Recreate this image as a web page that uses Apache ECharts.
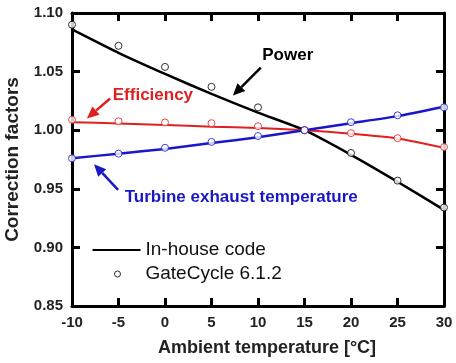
<!DOCTYPE html>
<html><head><meta charset="utf-8">
<script src="https://cdn.jsdelivr.net/npm/echarts@6/dist/echarts.min.js"></script>
<style>html,body{margin:0;padding:0;background:#fff}#c{width:456px;height:363px}</style>
</head><body><div id="c"></div>
<script>
const temps = [-10, -5, 0, 5, 10, 15, 20, 25, 30];
const powerLine = [1.086, 1.066, 1.048, 1.031, 1.015, 1.000, 0.979, 0.956, 0.932];
const powerPts  = [1.090, 1.072, 1.054, 1.037, 1.0195, 1.000, 0.9806, 0.957, 0.934];
const effLine   = [1.0068, 1.0058, 1.0045, 1.003, 1.0018, 1.000, 0.997, 0.993, 0.985];
const effPts    = [1.009, 1.0076, 1.0066, 1.006, 1.0034, 1.000, 0.9975, 0.9932, 0.9856];
const exhLine   = [0.976, 0.980, 0.984, 0.989, 0.994, 1.000, 1.006, 1.012, 1.020];
const exhPts    = [0.976, 0.980, 0.985, 0.990, 0.995, 1.000, 1.0068, 1.0127, 1.0195];
const yTicks = [0.85, 0.90, 0.95, 1.00, 1.05, 1.10];
const xTicks = [-10, -5, 0, 5, 10, 15, 20, 25, 30];

const FONT = '"Liberation Sans", Arial, sans-serif';
const pair = (xs, ys) => xs.map((x, i) => [x, ys[i]]);
const chart = echarts.init(document.getElementById('c'), null, {renderer: 'canvas'});

const axisCommon = {
  axisLine: {show: true, onZero: false, lineStyle: {color: '#000', width: 3}},
  axisTick: {show: true, inside: true, length: 8, lineStyle: {color: '#000', width: 3}},
  splitLine: {show: false}
};
function lineSeries(name, data, color, w) {
  return {type: 'line', name: name, data: data, symbol: 'none', smooth: 0.2,
    lineStyle: {color: color, width: w}, itemStyle: {color: color}, z: 2, animation: false};
}
function ptSeries(name, data, color) {
  return {type: 'scatter', name: name, data: data, symbol: 'circle', symbolSize: 7,
    itemStyle: {color: '#fff', borderColor: color, borderWidth: 1}, z: 3, animation: false};
}
chart.setOption({
  animation: false,
  grid: {left: 72, right: 12, top: 13, bottom: 57, containLabel: false, outerBoundsMode: 'none'},
  xAxis: [
    Object.assign({type: 'value', min: xTicks[0], max: xTicks[xTicks.length - 1], interval: 5,
      name: 'Ambient temperature [°C]', nameLocation: 'middle', nameGap: 33,
      nameTextStyle: {fontFamily: FONT, fontSize: 18, fontWeight: 'bold', color: '#222', padding: [0, 0, 0, 18]},
      axisLabel: {fontFamily: FONT, fontSize: 15, fontWeight: 'bold', color: '#222', margin: 9}}, axisCommon),
    Object.assign({type: 'value', position: 'top', min: xTicks[0], max: xTicks[xTicks.length - 1], interval: 5,
      axisLabel: {show: false}}, axisCommon)
  ],
  yAxis: [
    Object.assign({type: 'value', min: yTicks[0], max: yTicks[yTicks.length - 1], interval: 0.05,
      name: 'Correction factors', nameLocation: 'middle', nameGap: 50,
      nameTextStyle: {fontFamily: FONT, fontSize: 19, fontWeight: 'bold', color: '#222'},
      axisLabel: {fontFamily: FONT, fontSize: 15, fontWeight: 'bold', color: '#222', margin: 9,
        formatter: v => v.toFixed(2)}}, axisCommon),
    Object.assign({type: 'value', position: 'right', min: yTicks[0], max: yTicks[yTicks.length - 1], interval: 0.05,
      axisLabel: {show: false}}, axisCommon)
  ],
  legend: {
    left: 92, top: 240, padding: 0, orient: 'vertical', itemWidth: 48, itemHeight: 14, itemGap: 4,
    textStyle: {fontFamily: FONT, fontSize: 19, lineHeight: 20, color: '#111'},
    data: [
      {name: 'In-house code', icon: 'path://M0,0 M48,14 M0,6 L48,6 L48,8 L0,8 Z', itemStyle: {color: '#000'}},
      {name: 'GateCycle 6.1.2', icon: 'path://M0,0 M48,14 M22,7 A3,3 0 1,0 28,7 A3,3 0 1,0 22,7 Z',
        itemStyle: {color: '#fff', borderColor: '#000', borderWidth: 1}}
    ]
  },
  series: [
    lineSeries('In-house code', pair(temps, powerLine), '#000', 2.5),
    lineSeries('In-house code', pair(temps, effLine), '#e02020', 2),
    lineSeries('In-house code', pair(temps, exhLine), '#1818c8', 2.5),
    ptSeries('GateCycle 6.1.2', pair(temps, powerPts), '#000'),
    ptSeries('GateCycle 6.1.2', pair(temps, effPts), '#e02020'),
    ptSeries('GateCycle 6.1.2', pair(temps, exhPts), '#1818c8')
  ]
});

const annots = [
  {text: 'Power', color: '#000', at: [13.2, 1.064], tail: [10.3, 1.0534], head: [7.3, 1.0296]},
  {text: 'Efficiency', color: '#e02020', at: [-1.3, 1.0296], tail: [-5.9, 1.027], head: [-8.4, 1.010]},
  {text: 'Turbine exhaust temperature', color: '#1818c8', at: [8.2, 0.9424], tail: [-5.05, 0.949], head: [-7.63, 0.971]}
];
const P = v => chart.convertToPixel({xAxisIndex: 0, yAxisIndex: 0}, v);
const els = [];
annots.forEach(a => {
  const c = P(a.at), t = P(a.tail), h = P(a.head);
  els.push({type: 'text', x: c[0], y: c[1], z: 10,
    style: {text: a.text, fill: a.color, font: 'bold 17px ' + FONT, align: 'center', verticalAlign: 'middle'}});
  const dx = h[0] - t[0], dy = h[1] - t[1], L = Math.hypot(dx, dy);
  const ux = dx / L, uy = dy / L, hl = 12, hw = 5.5;
  const bx = h[0] - ux * hl, by = h[1] - uy * hl;
  els.push({type: 'line', z: 10, shape: {x1: t[0], y1: t[1], x2: bx, y2: by},
    style: {stroke: a.color, lineWidth: 2.5}});
  els.push({type: 'polygon', z: 10, shape: {points: [[h[0], h[1]], [bx - uy * hw, by + ux * hw], [bx + uy * hw, by - ux * hw]]},
    style: {fill: a.color}});
});
chart.setOption({graphic: els});
</script></body></html>
